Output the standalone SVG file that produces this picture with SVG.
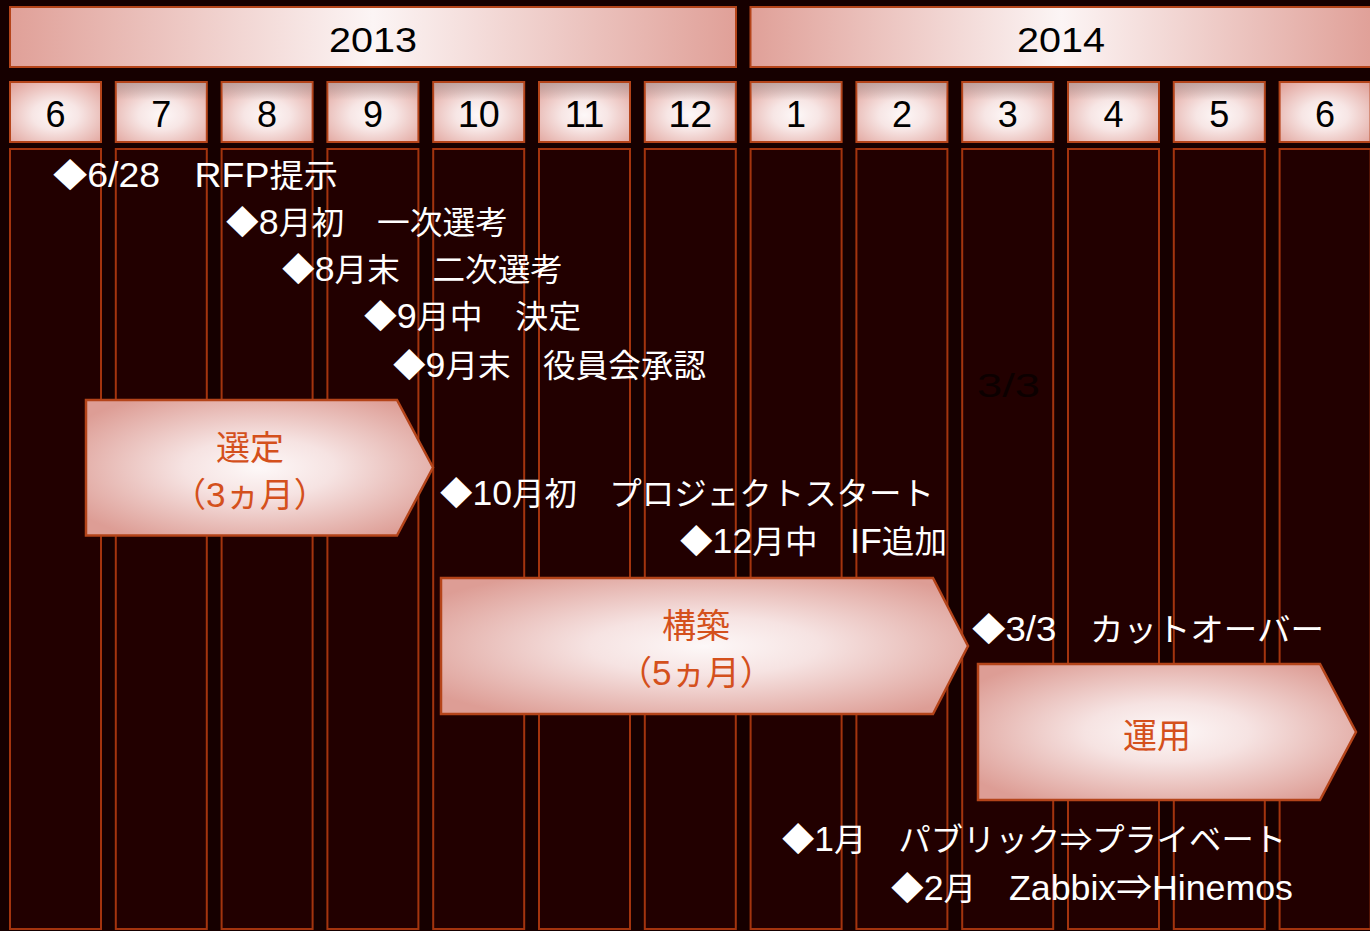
<svg xmlns="http://www.w3.org/2000/svg" width="1370" height="931" viewBox="0 0 1370 931">
<defs>
<linearGradient id="yearGrad" x1="0" y1="0" x2="1" y2="0">
<stop offset="0" stop-color="#e0a098"/>
<stop offset="0.5" stop-color="#fcf5f5"/>
<stop offset="1" stop-color="#e0a098"/>
</linearGradient>
<radialGradient id="boxGrad" cx="0.5" cy="0.55" r="0.72">
<stop offset="0" stop-color="#fdf8f8"/>
<stop offset="0.35" stop-color="#f7e6e5"/>
<stop offset="1" stop-color="#e0a098"/>
</radialGradient>
<linearGradient id="shade" x1="0" y1="0" x2="0" y2="1">
<stop offset="0" stop-color="#a09898" stop-opacity="0.55"/>
<stop offset="0.3" stop-color="#a09898" stop-opacity="0"/>
</linearGradient>
<radialGradient id="arrowGrad" cx="0.5" cy="0.5" r="0.62">
<stop offset="0" stop-color="#fdf8f8"/>
<stop offset="0.35" stop-color="#f6e3e2"/>
<stop offset="1" stop-color="#dd9d95"/>
</radialGradient>
</defs>
<style>
.bg{fill:#160000}
.col{fill:#220000;stroke:#a3340e;stroke-width:2}
.year{fill:url(#yearGrad);stroke:#b4441a;stroke-width:2}
.box{fill:url(#boxGrad);stroke:#b4441a;stroke-width:2}
.shade{fill:url(#shade)}
.arrow{fill:url(#arrowGrad);stroke:#b4441a;stroke-width:2.5}
.yt{font-family:"Liberation Sans","Noto Sans",sans-serif;font-size:35px;fill:#000;text-anchor:middle}
.mt{font-family:"Liberation Sans","Noto Sans",sans-serif;font-size:36px;fill:#000;text-anchor:middle}
.ev{font-family:"Liberation Sans","Noto Sans CJK JP",sans-serif;font-size:32px;fill:#ffffff}
.dia{font-family:"Noto Sans CJK JP",sans-serif}
.lat{font-size:35px}
.at{font-family:"Liberation Sans","Noto Sans CJK JP",sans-serif;font-size:34px;fill:#d4501c;text-anchor:middle}
.faint{font-family:"Liberation Sans","Noto Sans",sans-serif;font-size:33px;fill:#0c0000}
</style>
<rect class="bg" x="0" y="0" width="1370" height="931"/>
<g id="columns">
<rect class="col" x="10" y="149" width="91" height="780"/>
<rect class="col" x="115.8" y="149" width="91" height="780"/>
<rect class="col" x="221.6" y="149" width="91" height="780"/>
<rect class="col" x="327.4" y="149" width="91" height="780"/>
<rect class="col" x="433.2" y="149" width="91" height="780"/>
<rect class="col" x="539" y="149" width="91" height="780"/>
<rect class="col" x="644.8" y="149" width="91" height="780"/>
<rect class="col" x="750.6" y="149" width="91" height="780"/>
<rect class="col" x="856.4" y="149" width="91" height="780"/>
<rect class="col" x="962.2" y="149" width="91" height="780"/>
<rect class="col" x="1068" y="149" width="91" height="780"/>
<rect class="col" x="1173.8" y="149" width="91" height="780"/>
<rect class="col" x="1279.6" y="149" width="91" height="780"/>
</g>
<g id="year-2013">
<rect class="year" x="10" y="7" width="726" height="60"/>
<text class="yt" x="373" y="52" textLength="88" lengthAdjust="spacingAndGlyphs">2013</text>
</g>
<g id="year-2014">
<rect class="year" x="750.5" y="7" width="622" height="60"/>
<text class="yt" x="1061" y="52" textLength="88" lengthAdjust="spacingAndGlyphs">2014</text>
</g>
<g id="months">
<g id="m2013-6"><rect class="box" x="10" y="82" width="91" height="60"/><text class="mt" x="55.5" y="127">6</text></g>
<g id="m2013-7"><rect class="box" x="115.8" y="82" width="91" height="60"/><rect class="shade" x="116.8" y="83" width="89" height="58"/><text class="mt" x="161.3" y="127">7</text></g>
<g id="m2013-8"><rect class="box" x="221.6" y="82" width="91" height="60"/><rect class="shade" x="222.6" y="83" width="89" height="58"/><text class="mt" x="267.1" y="127">8</text></g>
<g id="m2013-9"><rect class="box" x="327.4" y="82" width="91" height="60"/><rect class="shade" x="328.4" y="83" width="89" height="58"/><text class="mt" x="372.9" y="127">9</text></g>
<g id="m2013-10"><rect class="box" x="433.2" y="82" width="91" height="60"/><rect class="shade" x="434.2" y="83" width="89" height="58"/><text class="mt" x="478.7" y="127" textLength="42" lengthAdjust="spacingAndGlyphs">10</text></g>
<g id="m2013-11"><rect class="box" x="539" y="82" width="91" height="60"/><rect class="shade" x="540" y="83" width="89" height="58"/><text class="mt" x="584.5" y="127" textLength="40" lengthAdjust="spacingAndGlyphs">11</text></g>
<g id="m2013-12"><rect class="box" x="644.8" y="82" width="91" height="60"/><rect class="shade" x="645.8" y="83" width="89" height="58"/><text class="mt" x="690.3" y="127" textLength="44" lengthAdjust="spacingAndGlyphs">12</text></g>
<g id="m2014-1"><rect class="box" x="750.6" y="82" width="91" height="60"/><rect class="shade" x="751.6" y="83" width="89" height="58"/><text class="mt" x="796.1" y="127">1</text></g>
<g id="m2014-2"><rect class="box" x="856.4" y="82" width="91" height="60"/><rect class="shade" x="857.4" y="83" width="89" height="58"/><text class="mt" x="901.9" y="127">2</text></g>
<g id="m2014-3"><rect class="box" x="962.2" y="82" width="91" height="60"/><rect class="shade" x="963.2" y="83" width="89" height="58"/><text class="mt" x="1007.7" y="127">3</text></g>
<g id="m2014-4"><rect class="box" x="1068" y="82" width="91" height="60"/><rect class="shade" x="1069" y="83" width="89" height="58"/><text class="mt" x="1113.5" y="127">4</text></g>
<g id="m2014-5"><rect class="box" x="1173.8" y="82" width="91" height="60"/><rect class="shade" x="1174.8" y="83" width="89" height="58"/><text class="mt" x="1219.3" y="127">5</text></g>
<g id="m2014-6"><rect class="box" x="1279.6" y="82" width="91" height="60"/><text class="mt" x="1325.1" y="127">6</text></g>
</g>
<text class="faint" x="977" y="397" textLength="63" lengthAdjust="spacingAndGlyphs">3/3</text>
<g id="phase-selection">
<polygon class="arrow" points="86,400 397,400 433,467.5 397,535.5 86,535.5"/>
<text class="at" x="250" y="460">選定</text>
<text class="at" x="250" y="507" textLength="156" lengthAdjust="spacingAndGlyphs">（<tspan class="lat">3</tspan>ヵ月）</text>
</g>
<g id="phase-build">
<polygon class="arrow" points="441,578 933,578 968,646 933,714 441,714"/>
<text class="at" x="696" y="638">構築</text>
<text class="at" x="696" y="685" textLength="156" lengthAdjust="spacingAndGlyphs">（<tspan class="lat">5</tspan>ヵ月）</text>
</g>
<g id="phase-operation">
<polygon class="arrow" points="978,664 1320,664 1356,732 1320,800 978,800"/>
<text class="at" x="1157" y="748">運用</text>
</g>
<g id="events">
<text class="ev" x="53" y="187" textLength="285" lengthAdjust="spacingAndGlyphs"><tspan class="dia">◆</tspan><tspan class="lat">6/28</tspan>　<tspan class="lat">RFP</tspan>提示</text>
<text class="ev" x="226" y="234" textLength="282" lengthAdjust="spacingAndGlyphs"><tspan class="dia">◆</tspan><tspan class="lat">8</tspan>月初　一次選考</text>
<text class="ev" x="282" y="281" textLength="281" lengthAdjust="spacingAndGlyphs"><tspan class="dia">◆</tspan><tspan class="lat">8</tspan>月末　二次選考</text>
<text class="ev" x="364" y="328" textLength="217" lengthAdjust="spacingAndGlyphs"><tspan class="dia">◆</tspan><tspan class="lat">9</tspan>月中　決定</text>
<text class="ev" x="393" y="377" textLength="313" lengthAdjust="spacingAndGlyphs"><tspan class="dia">◆</tspan><tspan class="lat">9</tspan>月末　役員会承認</text>
<text class="ev" x="440" y="505" textLength="494" lengthAdjust="spacingAndGlyphs"><tspan class="dia">◆</tspan><tspan class="lat">10</tspan>月初　プロジェクトスタート</text>
<text class="ev" x="680" y="553" textLength="267" lengthAdjust="spacingAndGlyphs"><tspan class="dia">◆</tspan><tspan class="lat">12</tspan>月中　<tspan class="lat">IF</tspan>追加</text>
<text class="ev" x="972" y="641" textLength="352" lengthAdjust="spacingAndGlyphs"><tspan class="dia">◆</tspan><tspan class="lat">3/3</tspan>　カットオーバー</text>
<text class="ev" x="782" y="851" textLength="504" lengthAdjust="spacingAndGlyphs"><tspan class="dia">◆</tspan><tspan class="lat">1</tspan>月　パブリック⇒プライベート</text>
<text class="ev" x="891" y="900" textLength="402" lengthAdjust="spacingAndGlyphs"><tspan class="dia">◆</tspan><tspan class="lat">2</tspan>月　<tspan class="lat">Zabbix⇒Hinemos</tspan></text>
</g>
</svg>
